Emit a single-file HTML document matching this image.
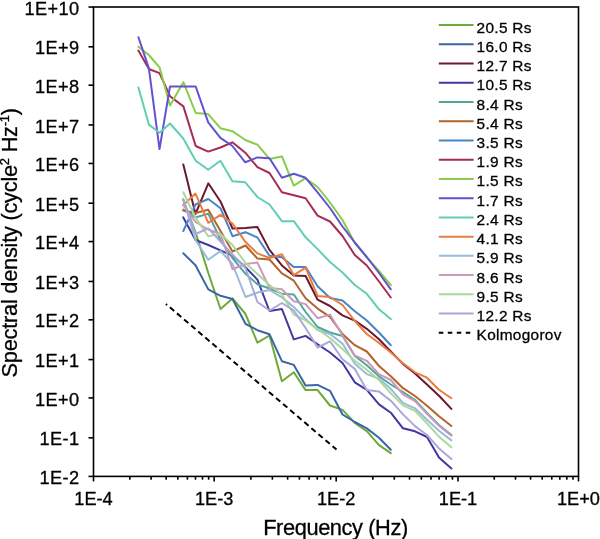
<!DOCTYPE html>
<html><head><meta charset="utf-8"><style>html,body{margin:0;padding:0;background:#fff;width:600px;height:539px;overflow:hidden}svg{display:block}#w{will-change:transform;width:600px;height:539px}text{font-family:"Liberation Sans",sans-serif;fill:#000;stroke:#000;stroke-width:0.3px}</style></head><body><div id="w">
<svg width="600" height="539" viewBox="0 0 600 539">
<g fill="none" stroke-width="2.00" stroke-linejoin="round" stroke-linecap="round">
<polyline stroke="#6ea93a" points="183.3,200.0 195.5,232.0 208.3,273.0 220.5,309.0 232.5,298.4 245.5,314.0 257.4,342.6 269.5,335.5 281.9,381.2 293.8,372.3 305.6,390.1 317.6,390.1 330.0,405.5 342.5,409.9 354.8,422.9 366.8,431.2 379.0,445.1 390.8,453.1"/>
<polyline stroke="#3a67a3" points="183.3,253.3 195.5,265.3 208.3,289.4 220.5,295.8 232.5,299.0 245.5,323.8 257.4,330.2 269.5,334.3 281.9,361.2 293.8,364.9 305.6,385.6 317.6,384.9 330.0,390.8 342.5,414.5 354.8,422.0 366.8,428.4 379.0,437.7 390.8,449.8"/>
<polyline stroke="#6e1830" points="183.3,164.4 195.5,213.9 208.3,183.3 220.5,201.5 232.5,228.5 245.5,228.0 257.4,227.0 269.5,249.9 281.9,265.4 293.8,275.5 305.6,276.0 317.6,299.7 330.0,306.0 342.5,315.4 354.8,320.6 366.8,328.8 379.0,339.2 390.8,351.5 403.0,363.9 415.0,373.5 427.0,384.4 439.0,395.8 451.4,408.9"/>
<polyline stroke="#4436a0" points="183.3,217.4 195.5,240.0 208.3,245.0 220.5,250.4 232.5,255.6 245.5,267.3 257.4,279.6 269.5,311.0 281.9,309.0 293.8,339.4 305.6,335.9 317.6,344.2 330.0,352.5 342.5,363.0 354.8,382.3 366.8,389.9 379.0,404.4 390.8,412.7 403.0,428.3 415.0,431.3 427.0,437.0 439.0,457.5 451.4,468.5"/>
<polyline stroke="#4fa79b" points="183.3,209.6 195.5,217.5 208.3,213.6 220.5,240.0 232.5,258.0 245.5,273.8 257.4,284.2 269.5,288.5 281.9,293.7 293.8,294.5 305.6,312.0 317.6,327.0 330.0,332.5 342.5,336.0 354.8,356.0 366.8,365.2 379.0,376.3 390.8,384.5 403.0,392.0 415.0,400.0 427.0,413.0 439.0,425.0 451.4,435.0"/>
<polyline stroke="#b5632a" points="183.3,210.6 195.5,213.0 208.3,209.8 220.5,231.0 232.5,251.5 245.5,245.5 257.4,258.5 269.5,259.5 281.9,273.3 293.8,280.7 305.6,298.2 317.6,308.6 330.0,316.8 342.5,334.0 354.8,345.2 366.8,351.5 379.0,366.0 390.8,376.3 403.0,388.2 415.0,396.0 427.0,405.7 439.0,416.2 451.4,426.0"/>
<polyline stroke="#4784c8" points="183.3,231.0 195.5,204.5 208.3,199.0 220.5,208.2 232.5,236.2 245.5,232.2 257.4,237.5 269.5,255.8 281.9,257.3 293.8,267.0 305.6,267.0 317.6,286.3 330.0,298.0 342.5,300.6 354.8,311.2 366.8,320.5 379.0,332.5 390.8,345.3"/>
<polyline stroke="#a52c52" points="138.4,50.6 148.9,69.0 159.5,73.1 170.0,96.2 183.4,106.4 195.7,146.0 208.2,151.6 220.4,147.5 232.4,142.3 245.3,152.7 257.4,167.1 269.5,173.0 281.9,192.3 293.8,195.3 305.6,198.2 317.6,215.6 330.0,221.5 342.5,236.0 354.8,255.0 366.8,265.5 379.0,281.5 390.8,297.5"/>
<polyline stroke="#88cc4c" points="138.4,46.7 148.9,55.0 159.5,67.3 170.0,105.6 183.4,82.2 195.7,113.0 208.2,114.1 220.4,128.2 232.4,131.2 245.3,140.0 257.4,144.6 269.5,158.9 281.9,156.4 293.8,185.6 305.6,178.2 317.6,187.0 330.0,202.5 342.5,220.0 354.8,243.0 366.8,257.5 379.0,271.0 390.8,285.2"/>
<polyline stroke="#6252d0" points="138.4,37.3 148.9,68.4 159.5,149.1 170.0,86.4 183.4,86.5 195.7,86.5 208.2,122.3 220.4,137.8 232.4,146.0 245.3,162.3 257.4,157.4 269.5,158.2 281.9,177.8 293.8,173.8 305.6,177.8 317.6,192.3 330.0,208.0 342.5,226.5 354.8,242.5 366.8,257.0 379.0,273.0 390.8,289.3"/>
<polyline stroke="#62cdb6" points="138.4,87.4 148.9,124.6 159.5,132.7 170.0,123.5 183.4,138.7 195.7,160.7 208.2,169.8 220.4,160.8 232.4,181.2 245.3,182.3 257.4,197.0 269.5,204.5 281.9,221.2 293.8,221.2 305.6,237.3 317.6,249.1 330.0,262.0 342.5,272.5 354.8,285.0 366.8,293.8 379.0,309.3 390.8,319.0"/>
<polyline stroke="#e97c40" points="183.3,205.0 195.5,193.6 208.3,222.8 220.5,214.9 232.5,223.5 245.5,242.1 257.4,253.4 269.5,258.0 281.9,254.3 293.8,275.1 305.6,267.7 317.6,296.0 330.0,297.0 342.5,305.0 354.8,321.0 366.8,334.0 379.0,343.0 390.8,352.5 403.0,363.3 415.0,372.3 427.0,377.7 439.0,389.8 451.4,398.3"/>
<polyline stroke="#98bbdc" points="183.3,199.0 195.5,240.0 208.3,259.8 220.5,251.0 232.5,264.0 245.5,297.0 257.4,292.6 269.5,290.0 281.9,297.4 293.8,307.0 305.6,319.0 317.6,330.0 330.0,334.0 342.5,343.6 354.8,363.7 366.8,374.1 379.0,378.6 390.8,389.0 403.0,402.9 415.0,408.3 427.0,419.8 439.0,430.7 451.4,440.4"/>
<polyline stroke="#cc98bc" points="183.3,205.0 195.5,222.0 208.3,229.5 220.5,234.0 232.5,269.2 245.5,264.0 257.4,262.6 269.5,288.0 281.9,289.2 293.8,301.2 305.6,304.1 317.6,318.2 330.0,314.6 342.5,335.4 354.8,355.5 366.8,360.8 379.0,374.1 390.8,380.0 403.0,394.4 415.0,401.1 427.0,413.8 439.0,425.8 451.4,435.7"/>
<polyline stroke="#abd998" points="183.3,192.3 195.5,217.6 208.3,236.2 220.5,234.0 232.5,245.0 245.5,263.0 257.4,274.0 269.5,285.0 281.9,294.5 293.8,314.5 305.6,320.4 317.6,329.3 330.0,338.0 342.5,349.0 354.8,360.8 366.8,369.7 379.0,380.0 390.8,393.4 403.0,405.3 415.0,410.8 427.0,423.4 439.0,436.7 451.4,447.3"/>
<polyline stroke="#aaa8d8" points="183.3,199.5 195.5,234.0 208.3,228.4 220.5,241.5 232.5,254.5 245.5,268.0 257.4,302.0 269.5,310.5 281.9,303.0 293.8,310.5 305.6,328.0 317.6,347.5 330.0,341.3 342.5,359.3 354.8,368.9 366.8,390.0 379.0,391.6 390.8,400.7 403.0,414.4 415.0,426.1 427.0,435.0 439.0,448.4 451.4,459.0"/>
</g>
<line x1="165.9" y1="303.9" x2="336.5" y2="449.6" stroke="#000" stroke-width="2" stroke-dasharray="5.6 3.7" stroke-dashoffset="4"/>
<g stroke="#000" stroke-width="1.6" fill="none">
<rect x="93.50" y="7.00" width="485.00" height="469.40"/>
<line x1="88.50" y1="7.05" x2="93.50" y2="7.05"/>
<line x1="88.50" y1="46.83" x2="93.50" y2="46.83"/>
<line x1="88.50" y1="85.20" x2="93.50" y2="85.20"/>
<line x1="88.50" y1="124.94" x2="93.50" y2="124.94"/>
<line x1="88.50" y1="163.46" x2="93.50" y2="163.46"/>
<line x1="88.50" y1="203.20" x2="93.50" y2="203.20"/>
<line x1="88.50" y1="241.57" x2="93.50" y2="241.57"/>
<line x1="88.50" y1="281.46" x2="93.50" y2="281.46"/>
<line x1="88.50" y1="319.83" x2="93.50" y2="319.83"/>
<line x1="88.50" y1="359.58" x2="93.50" y2="359.58"/>
<line x1="88.50" y1="397.95" x2="93.50" y2="397.95"/>
<line x1="88.50" y1="437.83" x2="93.50" y2="437.83"/>
<line x1="88.50" y1="476.40" x2="93.50" y2="476.40"/>
<line x1="93.50" y1="476.40" x2="93.50" y2="481.40"/>
<line x1="129.83" y1="476.40" x2="129.83" y2="479.70"/>
<line x1="151.07" y1="476.40" x2="151.07" y2="479.70"/>
<line x1="166.15" y1="476.40" x2="166.15" y2="479.70"/>
<line x1="177.84" y1="476.40" x2="177.84" y2="479.70"/>
<line x1="187.40" y1="476.40" x2="187.40" y2="479.70"/>
<line x1="195.48" y1="476.40" x2="195.48" y2="479.70"/>
<line x1="202.48" y1="476.40" x2="202.48" y2="479.70"/>
<line x1="208.65" y1="476.40" x2="208.65" y2="479.70"/>
<line x1="214.17" y1="476.40" x2="214.17" y2="481.40"/>
<line x1="250.90" y1="476.40" x2="250.90" y2="479.70"/>
<line x1="272.38" y1="476.40" x2="272.38" y2="479.70"/>
<line x1="287.62" y1="476.40" x2="287.62" y2="479.70"/>
<line x1="299.44" y1="476.40" x2="299.44" y2="479.70"/>
<line x1="309.10" y1="476.40" x2="309.10" y2="479.70"/>
<line x1="317.27" y1="476.40" x2="317.27" y2="479.70"/>
<line x1="324.35" y1="476.40" x2="324.35" y2="479.70"/>
<line x1="330.59" y1="476.40" x2="330.59" y2="479.70"/>
<line x1="336.17" y1="476.40" x2="336.17" y2="481.40"/>
<line x1="372.84" y1="476.40" x2="372.84" y2="479.70"/>
<line x1="394.30" y1="476.40" x2="394.30" y2="479.70"/>
<line x1="409.52" y1="476.40" x2="409.52" y2="479.70"/>
<line x1="421.33" y1="476.40" x2="421.33" y2="479.70"/>
<line x1="430.97" y1="476.40" x2="430.97" y2="479.70"/>
<line x1="439.13" y1="476.40" x2="439.13" y2="479.70"/>
<line x1="446.19" y1="476.40" x2="446.19" y2="479.70"/>
<line x1="452.43" y1="476.40" x2="452.43" y2="479.70"/>
<line x1="458.00" y1="476.40" x2="458.00" y2="481.40"/>
<line x1="494.27" y1="476.40" x2="494.27" y2="479.70"/>
<line x1="515.49" y1="476.40" x2="515.49" y2="479.70"/>
<line x1="530.55" y1="476.40" x2="530.55" y2="479.70"/>
<line x1="542.23" y1="476.40" x2="542.23" y2="479.70"/>
<line x1="551.77" y1="476.40" x2="551.77" y2="479.70"/>
<line x1="559.83" y1="476.40" x2="559.83" y2="479.70"/>
<line x1="566.82" y1="476.40" x2="566.82" y2="479.70"/>
<line x1="572.99" y1="476.40" x2="572.99" y2="479.70"/>
<line x1="578.50" y1="476.40" x2="578.50" y2="481.40"/>
</g>
<g font-size="18.2" text-anchor="end" letter-spacing="0.4">
<text x="79.6" y="14.65">1E+10</text>
<text x="79.6" y="54.43">1E+9</text>
<text x="79.6" y="92.80">1E+8</text>
<text x="79.6" y="132.54">1E+7</text>
<text x="79.6" y="171.06">1E+6</text>
<text x="79.6" y="210.80">1E+5</text>
<text x="79.6" y="249.17">1E+4</text>
<text x="79.6" y="289.06">1E+3</text>
<text x="79.6" y="327.43">1E+2</text>
<text x="79.6" y="367.18">1E+1</text>
<text x="79.6" y="405.55">1E+0</text>
<text x="79.6" y="445.43">1E-1</text>
<text x="79.6" y="484.00">1E-2</text>
</g>
<g font-size="18.2" text-anchor="middle" letter-spacing="0">
<text x="93.50" y="504.7">1E-4</text>
<text x="214.17" y="504.7">1E-3</text>
<text x="336.17" y="504.7">1E-2</text>
<text x="458.00" y="504.7">1E-1</text>
<text x="578.50" y="504.7">1E+0</text>
</g>
<text x="335.5" y="534.5" font-size="21.8" letter-spacing="-0.4" text-anchor="middle">Frequency (Hz)</text>
<text transform="translate(16.7,242.8) rotate(-90)" font-size="21.8" letter-spacing="-0.25" text-anchor="middle">Spectral density (cycle<tspan font-size="13" dy="-8">2</tspan><tspan dy="8"> Hz</tspan><tspan font-size="13" dy="-8">-1</tspan><tspan dy="8">)</tspan></text>
<g font-size="15.4" letter-spacing="0.3">
<line x1="438.8" y1="25.10" x2="473.6" y2="25.10" stroke="#6ea93a" stroke-width="2"/>
<text x="476.6" y="32.60">20.5 Rs</text>
<line x1="438.8" y1="44.33" x2="473.6" y2="44.33" stroke="#3a67a3" stroke-width="2"/>
<text x="476.6" y="51.83">16.0 Rs</text>
<line x1="438.8" y1="63.56" x2="473.6" y2="63.56" stroke="#6e1830" stroke-width="2"/>
<text x="476.6" y="71.06">12.7 Rs</text>
<line x1="438.8" y1="82.79" x2="473.6" y2="82.79" stroke="#4436a0" stroke-width="2"/>
<text x="476.6" y="90.29">10.5 Rs</text>
<line x1="438.8" y1="102.02" x2="473.6" y2="102.02" stroke="#4fa79b" stroke-width="2"/>
<text x="476.6" y="109.52">8.4 Rs</text>
<line x1="438.8" y1="121.25" x2="473.6" y2="121.25" stroke="#b5632a" stroke-width="2"/>
<text x="476.6" y="128.75">5.4 Rs</text>
<line x1="438.8" y1="140.48" x2="473.6" y2="140.48" stroke="#4784c8" stroke-width="2"/>
<text x="476.6" y="147.98">3.5 Rs</text>
<line x1="438.8" y1="159.71" x2="473.6" y2="159.71" stroke="#a52c52" stroke-width="2"/>
<text x="476.6" y="167.21">1.9 Rs</text>
<line x1="438.8" y1="178.94" x2="473.6" y2="178.94" stroke="#88cc4c" stroke-width="2"/>
<text x="476.6" y="186.44">1.5 Rs</text>
<line x1="438.8" y1="198.17" x2="473.6" y2="198.17" stroke="#6252d0" stroke-width="2"/>
<text x="476.6" y="205.67">1.7 Rs</text>
<line x1="438.8" y1="217.40" x2="473.6" y2="217.40" stroke="#62cdb6" stroke-width="2"/>
<text x="476.6" y="224.90">2.4 Rs</text>
<line x1="438.8" y1="236.63" x2="473.6" y2="236.63" stroke="#e97c40" stroke-width="2"/>
<text x="476.6" y="244.13">4.1 Rs</text>
<line x1="438.8" y1="255.86" x2="473.6" y2="255.86" stroke="#98bbdc" stroke-width="2"/>
<text x="476.6" y="263.36">5.9 Rs</text>
<line x1="438.8" y1="275.09" x2="473.6" y2="275.09" stroke="#cc98bc" stroke-width="2"/>
<text x="476.6" y="282.59">8.6 Rs</text>
<line x1="438.8" y1="294.32" x2="473.6" y2="294.32" stroke="#abd998" stroke-width="2"/>
<text x="476.6" y="301.82">9.5 Rs</text>
<line x1="438.8" y1="313.55" x2="473.6" y2="313.55" stroke="#aaa8d8" stroke-width="2"/>
<text x="476.6" y="321.05">12.2 Rs</text>
<line x1="438.8" y1="332.78" x2="473.6" y2="332.78" stroke="#000" stroke-width="2" stroke-dasharray="4.5 4.5"/>
<text x="476.6" y="340.28">Kolmogorov</text>
</g>
</svg></div></body></html>
